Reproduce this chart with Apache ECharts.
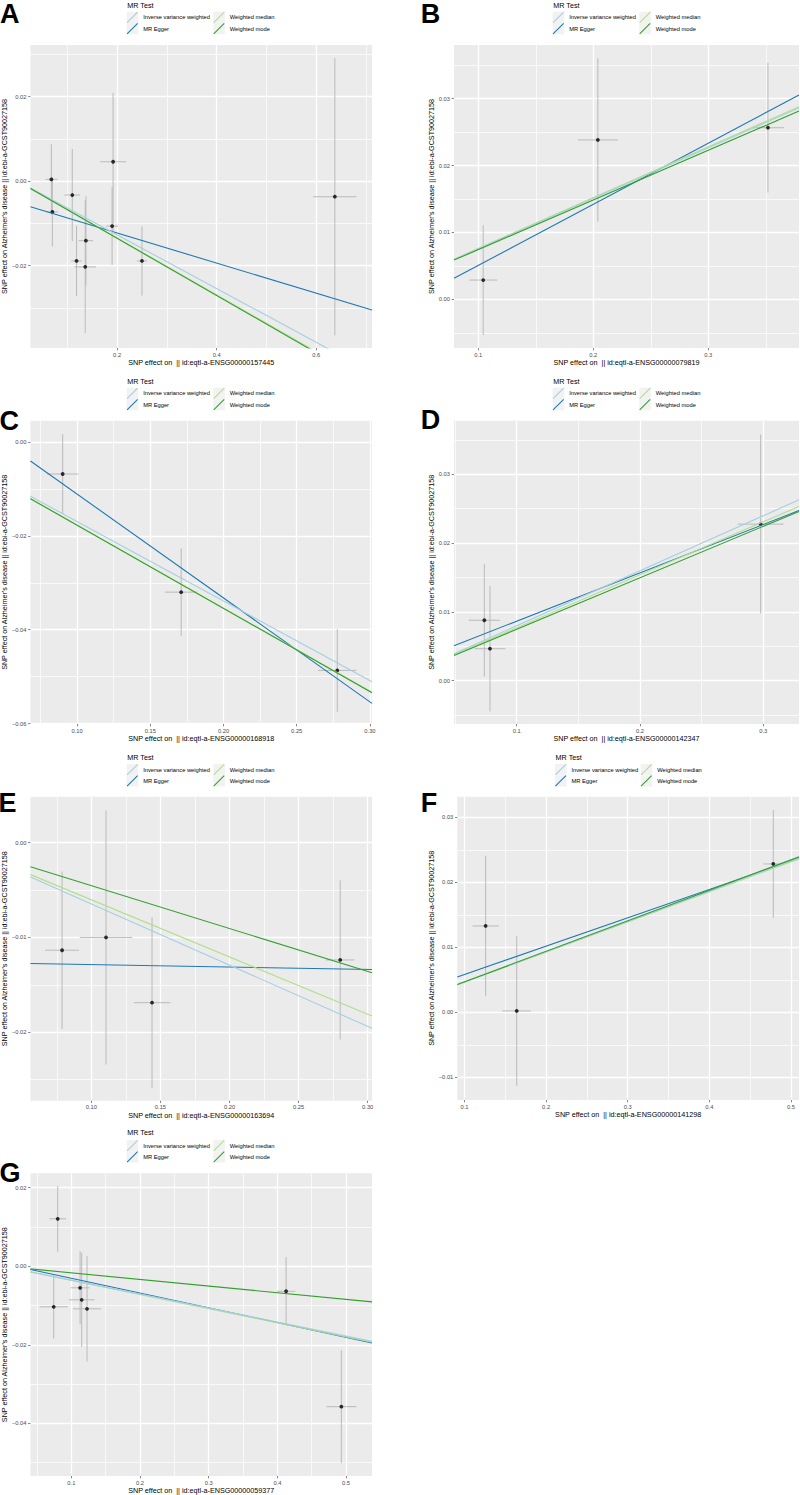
<!DOCTYPE html>
<html><head><meta charset="utf-8">
<script src="https://cdn.jsdelivr.net/npm/echarts@6/dist/echarts.min.js"></script>
<style>html,body{margin:0;padding:0;background:#fff}#c{width:800px;height:1495px}</style>
</head><body><div id="c"></div>
<script>
// ---------- methods ----------
const methods = ['Inverse variance weighted', 'MR Egger', 'Weighted median', 'Weighted mode'];
const methodColors = ['#A6CEE3', '#1F78B4', '#B2DF8A', '#33A02C'];
const drawOrder = [1, 2, 0, 3]; // Egger, W.median, IVW, W.mode (ggplot row order)

// ---------- Panel A ----------
const A_exposure   = [0.068, 0.070, 0.110, 0.1186, 0.1374, 0.136, 0.190, 0.192, 0.250, 0.6374];
const A_outcome    = [0.0004, -0.0073, -0.0033, -0.0189, -0.0141, -0.0203, -0.01065, 0.00457, -0.0189, -0.0037];
const A_exposureSE = [0.012, 0.0117, 0.016, 0.0107, 0.0143, 0.0217, 0.0123, 0.0264, 0.010, 0.0434];
const A_outcomeSE  = [0.0083, 0.0082, 0.0109, 0.0083, 0.0106, 0.0157, 0.0092, 0.0163, 0.0082, 0.0328];
const A_slopes     = [-0.0636, -0.03564, -0.0673, -0.0677];
const A_intercepts = [0, -0.00515, 0, 0];
const A_xLimits = [0.026, 0.712], A_yLimits = [-0.0395, 0.0322];
const A_xTicks = [0.2, 0.4, 0.6], A_xMinor = [0.1, 0.3, 0.5, 0.7];
const A_yTicks = [-0.02, 0, 0.02], A_yMinor = [-0.03, -0.01, 0.01, 0.03];

// ---------- Panel B ----------
const B_exposure   = [0.1043, 0.204, 0.3519];
const B_outcome    = [0.00288, 0.02383, 0.02566];
const B_exposureSE = [0.0122, 0.0174, 0.014];
const B_outcomeSE  = [0.0082, 0.0122, 0.0097];
const B_slopes     = [0.0755, 0.09137, 0.0760, 0.0743];
const B_intercepts = [0, -0.00407, 0, 0];
const B_xLimits = [0.0789, 0.3789], B_yLimits = [-0.00728, 0.03803];
const B_xTicks = [0.1, 0.2, 0.3], B_xMinor = [0.15, 0.25, 0.35];
const B_yTicks = [0, 0.01, 0.02, 0.03], B_yMinor = [-0.005, 0.005, 0.015, 0.025, 0.035];

// ---------- Panel C ----------
const C_exposure   = [0.0902, 0.1711, 0.2777];
const C_outcome    = [-0.00682, -0.032, -0.04868];
const C_exposureSE = [0.0108, 0.0111, 0.0131];
const C_outcomeSE  = [0.0085, 0.0093, 0.0088];
const C_slopes     = [-0.1695, -0.2215, -0.1770, -0.1773];
const C_intercepts = [0, 0.01106, 0, 0];
const C_xLimits = [0.0682, 0.3014], C_yLimits = [-0.0601, 0.00454];
const C_xTicks = [0.10, 0.15, 0.20, 0.25, 0.30], C_xMinor = [0.075, 0.125, 0.175, 0.225, 0.275];
const C_yTicks = [-0.06, -0.04, -0.02, 0], C_yMinor = [-0.05, -0.03, -0.01];

// ---------- Panel D ----------
const D_exposure   = [0.0737, 0.0783, 0.2979];
const D_outcome    = [0.00879, 0.00465, 0.02276];
const D_exposureSE = [0.0126, 0.0126, 0.0187];
const D_outcomeSE  = [0.0082, 0.0091, 0.013];
const D_slopes     = [0.0799, 0.0702, 0.0770, 0.0748];
const D_intercepts = [0, 0.00164, 0, 0];
const D_xLimits = [0.0491, 0.329], D_yLimits = [-0.00629, 0.03779];
const D_xTicks = [0.1, 0.2, 0.3], D_xMinor = [0.05, 0.15, 0.25];
const D_yTicks = [0, 0.01, 0.02, 0.03], D_yMinor = [-0.005, 0.005, 0.015, 0.025, 0.035];

// ---------- Panel E ----------
const E_exposure   = [0.0788, 0.1106, 0.1439, 0.2801];
const E_outcome    = [-0.01135, -0.0100, -0.01688, -0.01237];
const E_exposureSE = [0.0123, 0.019, 0.0132, 0.0103];
const E_outcomeSE  = [0.0083, 0.0134, 0.009, 0.0084];
const E_slopes     = [-0.0646, -0.00259, -0.0603, -0.0453];
const E_intercepts = [0, -0.0126, 0, 0];
const E_xLimits = [0.0559, 0.3031], E_yLimits = [-0.02722, 0.00485];
const E_xTicks = [0.10, 0.15, 0.20, 0.25, 0.30], E_xMinor = [0.075, 0.125, 0.175, 0.225, 0.275];
const E_yTicks = [-0.02, -0.01, 0], E_yMinor = [-0.025, -0.015, -0.005];

// ---------- Panel F ----------
const F_exposure   = [0.1259, 0.164, 0.4783];
const F_outcome    = [0.01328, 0.0002, 0.02282];
const F_exposureSE = [0.0161, 0.0177, 0.012];
const F_outcomeSE  = [0.0108, 0.0115, 0.0083];
const F_slopes     = [0.0466, 0.04362, 0.0463, 0.0469];
const F_intercepts = [0, 0.00145, 0, 0];
const F_xLimits = [0.0912, 0.5098], F_yLimits = [-0.0135, 0.03317];
const F_xTicks = [0.1, 0.2, 0.3, 0.4, 0.5], F_xMinor = [0.15, 0.25, 0.35, 0.45];
const F_yTicks = [-0.01, 0, 0.01, 0.02, 0.03], F_yMinor = [-0.005, 0.005, 0.015, 0.025];

// ---------- Panel G ----------
const G_exposure   = [0.0801, 0.0743, 0.1127, 0.115, 0.1228, 0.4127, 0.4932];
const G_outcome    = [0.01208, -0.01034, -0.0055, -0.00856, -0.01085, -0.00637, -0.03577];
const G_exposureSE = [0.0121, 0.0206, 0.0136, 0.0187, 0.0204, 0.0134, 0.0218];
const G_outcomeSE  = [0.0084, 0.0081, 0.0093, 0.012, 0.0134, 0.0087, 0.0144];
const G_slopes     = [-0.03553, -0.03756, -0.0360, -0.01687];
const G_intercepts = [0, 0.000678, 0, 0];
const G_xLimits = [0.0404, 0.5378], G_yLimits = [-0.05343, 0.02367];
const G_xTicks = [0.1, 0.2, 0.3, 0.4, 0.5], G_xMinor = [0.05, 0.15, 0.25, 0.35, 0.45];
const G_yTicks = [-0.04, -0.02, 0, 0.02], G_yMinor = [-0.05, -0.03, -0.01, 0.01];

// ---------- labels ----------
const panelLetters = ['A', 'B', 'C', 'D', 'E', 'F', 'G'];
const exposureIds = ['ENSG00000157445', 'ENSG00000079819', 'ENSG00000168918', 'ENSG00000142347',
                     'ENSG00000163694', 'ENSG00000141298', 'ENSG00000059377'];
const yTitle = "SNP effect on Alzheimer's disease || id:ebi-a-GCST90027158";
const legendTitle = 'MR Test';

// ---------- assemble (library tables) ----------
const panelData = [
  [A_exposure, A_outcome, A_exposureSE, A_outcomeSE, A_slopes, A_intercepts, A_xLimits, A_yLimits, A_xTicks, A_xMinor, A_yTicks, A_yMinor, 1, 2],
  [B_exposure, B_outcome, B_exposureSE, B_outcomeSE, B_slopes, B_intercepts, B_xLimits, B_yLimits, B_xTicks, B_xMinor, B_yTicks, B_yMinor, 1, 2],
  [C_exposure, C_outcome, C_exposureSE, C_outcomeSE, C_slopes, C_intercepts, C_xLimits, C_yLimits, C_xTicks, C_xMinor, C_yTicks, C_yMinor, 2, 2],
  [D_exposure, D_outcome, D_exposureSE, D_outcomeSE, D_slopes, D_intercepts, D_xLimits, D_yLimits, D_xTicks, D_xMinor, D_yTicks, D_yMinor, 1, 2],
  [E_exposure, E_outcome, E_exposureSE, E_outcomeSE, E_slopes, E_intercepts, E_xLimits, E_yLimits, E_xTicks, E_xMinor, E_yTicks, E_yMinor, 2, 2],
  [F_exposure, F_outcome, F_exposureSE, F_outcomeSE, F_slopes, F_intercepts, F_xLimits, F_yLimits, F_xTicks, F_xMinor, F_yTicks, F_yMinor, 1, 2],
  [G_exposure, G_outcome, G_exposureSE, G_outcomeSE, G_slopes, G_intercepts, G_xLimits, G_yLimits, G_xTicks, G_xMinor, G_yTicks, G_yMinor, 1, 2]
];

// ---------- layout (positions only) ----------
const gridRects = [
  {left: 30,    top: 45,     width: 342,   height: 303},
  {left: 454,   top: 45,     width: 345,   height: 303},
  {left: 30,    top: 420.7,  width: 342,   height: 303.3},
  {left: 454,   top: 420.7,  width: 345,   height: 303.3},
  {left: 30,    top: 796.7,  width: 342,   height: 304},
  {left: 457.3, top: 796.7,  width: 341.7, height: 303.3},
  {left: 30,    top: 1173.3, width: 342,   height: 302.7}
];
const yNameGaps = [20.7, 16.2, 20.7, 16.2, 20.7, 20.7, 20.7];
const legendPos = [ // [col1 key x, col2 key x, key top, title y-center]
  [126.7, 213.3, 11.7, 5], [552.7, 639.3, 11.7, 5],
  [126.7, 213.3, 387.7, 381], [552.7, 639.3, 387.7, 381],
  [126.7, 213.3, 764, 757], [555, 640.7, 764, 757],
  [126.7, 213.3, 1140, 1132.7]
];
const letterPos = [[0, 13.5], [420.7, 13.5], [-0.5, 421], [420.7, 420], [-1.5, 803], [420.7, 803], [-0.5, 1173]];

const FONT = 'Liberation Sans, Arial, Helvetica, sans-serif';
const KEY_W = 11.6, KEY_H = 11.3;

function fmt(dec) {
  return v => (v < 0 ? '\u2212' : '') + Math.abs(v).toFixed(dec);
}

const grid = [], xAxis = [], yAxis = [], series = [], legend = [], graphic = [];
const N = panelData.length;

// minor axes first (drawn beneath), then major axes
panelData.forEach((p, i) => {
  const [, , , , , , xl, yl, , xMinor, , yMinor] = p;
  grid.push(Object.assign({show: true, backgroundColor: '#EBEBEB', borderWidth: 0, containLabel: false}, gridRects[i]));
  xAxis.push({type: 'value', gridIndex: i, min: xl[0], max: xl[1], position: 'bottom',
    axisLine: {show: false, onZero: false}, axisTick: {show: false, customValues: xMinor}, axisLabel: {show: false, customValues: xMinor},
    splitLine: {show: true, lineStyle: {color: '#FFFFFF', width: 0.7}}});
  yAxis.push({type: 'value', gridIndex: i, min: yl[0], max: yl[1], position: 'left',
    axisLine: {show: false, onZero: false}, axisTick: {show: false, customValues: yMinor}, axisLabel: {show: false, customValues: yMinor},
    splitLine: {show: true, lineStyle: {color: '#FFFFFF', width: 0.7}}});
});
panelData.forEach((p, i) => {
  const [, , , , , , xl, yl, xTicks, , yTicks, , xDec, yDec] = p;
  xAxis.push({type: 'value', gridIndex: i, min: xl[0], max: xl[1], position: 'bottom',
    name: 'SNP effect on  || id:eqtl-a-' + exposureIds[i], nameLocation: 'middle', nameGap: 10.8,
    nameTextStyle: {fontSize: 7.2, color: '#000', fontFamily: FONT},
    axisLine: {show: false, onZero: false},
    axisTick: {show: true, length: 2.3, lineStyle: {color: '#333333', width: 0.6}, customValues: xTicks},
    axisLabel: {show: true, customValues: xTicks, formatter: fmt(xDec), fontSize: 5.76, color: '#4D4D4D', margin: 3.6, fontFamily: FONT},
    splitLine: {show: true, lineStyle: {color: '#FFFFFF', width: 1.3}}});
  yAxis.push({type: 'value', gridIndex: i, min: yl[0], max: yl[1], position: 'left',
    name: yTitle, nameLocation: 'middle', nameGap: yNameGaps[i],
    nameTextStyle: {fontSize: 7.2, color: '#000', fontFamily: FONT},
    axisLine: {show: false, onZero: false},
    axisTick: {show: true, length: 2.3, lineStyle: {color: '#333333', width: 0.6}, customValues: yTicks},
    axisLabel: {show: true, customValues: yTicks, formatter: fmt(yDec), fontSize: 5.76, color: '#4D4D4D', margin: 4, fontFamily: FONT},
    splitLine: {show: true, lineStyle: {color: '#FFFFFF', width: 1.3}}});
});

function renderErrorBars(params, api) {
  const x = api.value(0), y = api.value(1), sx = api.value(2), sy = api.value(3);
  const v1 = api.coord([x, y - sy]), v2 = api.coord([x, y + sy]);
  const h1 = api.coord([x - sx, y]), h2 = api.coord([x + sx, y]);
  const style = {stroke: '#B4B4B4', lineWidth: 0.9};
  return {type: 'group', children: [
    {type: 'line', shape: {x1: v1[0], y1: v1[1], x2: v2[0], y2: v2[1]}, style: style},
    {type: 'line', shape: {x1: h1[0], y1: h1[1], x2: h2[0], y2: h2[1]}, style: style}
  ]};
}

panelData.forEach((p, i) => {
  const [ex, out, exSE, outSE, slopes, ints, xl] = p;
  const xi = N + i, yi = N + i;
  series.push({type: 'custom', name: 'SNP error bars', xAxisIndex: xi, yAxisIndex: yi,
    renderItem: renderErrorBars, silent: true,
    data: ex.map((v, k) => [v, out[k], exSE[k], outSE[k]])});
  series.push({type: 'scatter', name: 'SNP', xAxisIndex: xi, yAxisIndex: yi, symbolSize: 3.8,
    itemStyle: {color: '#000000'}, silent: true,
    data: ex.map((v, k) => [v, out[k]])});
  drawOrder.forEach(m => {
    series.push({type: 'line', name: methods[m], xAxisIndex: xi, yAxisIndex: yi,
      symbol: 'none', clip: true, silent: true,
      lineStyle: {color: methodColors[m], width: 1.1}, itemStyle: {color: methodColors[m]},
      data: [[xl[0], ints[m] + slopes[m] * xl[0]], [xl[1], ints[m] + slopes[m] * xl[1]]]});
  });
});

const keyIcon = 'path://M0,11.2L0.8,12L12,0.8L11.2,0Z';
legendPos.forEach((lp, i) => {
  const common = {orient: 'vertical', top: lp[2], itemWidth: KEY_W, itemHeight: KEY_H, itemGap: 0, padding: 0,
    icon: keyIcon, selectedMode: false, itemStyle: {borderWidth: 0},
    textStyle: {fontSize: 5.76, color: '#000', fontFamily: FONT}};
  legend.push(Object.assign({left: lp[0], data: [methods[0], methods[1]]}, common));
  legend.push(Object.assign({left: lp[1], data: [methods[2], methods[3]]}, common));
  [lp[0], lp[1]].forEach(kx => {
    [0, 1].forEach(r => {
      graphic.push({type: 'rect', z: -1, silent: true, shape: {x: kx, y: lp[2] + r * KEY_H, width: KEY_W, height: KEY_H},
        style: {fill: '#F2F2F2'}});
    });
  });
  graphic.push({type: 'text', silent: true, x: lp[0] + 0.6, y: lp[3],
    style: {text: legendTitle, fontSize: 7.2, fontFamily: FONT, fill: '#000', align: 'left', verticalAlign: 'middle'}});
});
letterPos.forEach((lp, i) => {
  graphic.push({type: 'text', silent: true, x: lp[0], y: lp[1],
    style: {text: panelLetters[i], fontSize: 27, lineHeight: 18, fontWeight: 'bold', fontFamily: FONT, fill: '#000', align: 'left', verticalAlign: 'middle'}});
});

const chart = echarts.init(document.getElementById('c'), null, {renderer: 'svg', width: 800, height: 1495});
chart.setOption({
  animation: false,
  backgroundColor: '#FFFFFF',
  textStyle: {fontFamily: FONT},
  grid: grid, xAxis: xAxis, yAxis: yAxis, series: series, legend: legend, graphic: graphic
});
</script></body></html>
